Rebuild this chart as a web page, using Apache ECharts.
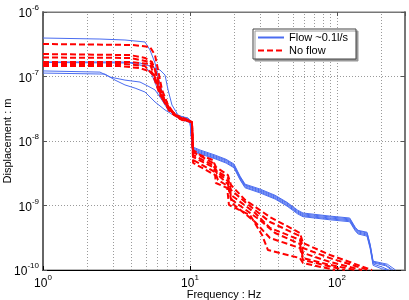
<!DOCTYPE html>
<html><head><meta charset="utf-8">
<script src="https://cdn.jsdelivr.net/npm/echarts@6/dist/echarts.min.js"></script>
<style>html,body{margin:0;padding:0;background:#fff}#c{width:409px;height:300px}</style>
</head><body><div id="c"></div>
<script>
const flowName = 'Flow ~0.1l/s';
const noFlowName = 'No flow';
const xLabelTicks = [1, 10, 100];
const xMinorGrid = [2,3,4,5,6,7,8,9,20,30,40,50,60,70,80,90,200];
const yMinorGrid = [2e-10,3e-10,4e-10,5e-10,6e-10,7e-10,8e-10,9e-10,
  2e-9,3e-9,4e-9,5e-9,6e-9,7e-9,8e-9,9e-9,
  2e-8,3e-8,4e-8,5e-8,6e-8,7e-8,8e-8,9e-8,
  2e-7,3e-7,4e-7,5e-7,6e-7,7e-7,8e-7,9e-7];

// Flow ~0.1 l/s  (frequency Hz, displacement m)
const flow1 = [[1,3.95e-7],[2.44,3.81e-7],[3.61,3.68e-7],[4.94,3.43e-7],[5.34,2.58e-7],[5.78,1.62e-7],[6.25,7.4e-8],[6.76,4.3e-8],[7.31,3.03e-8],[8.29,2.45e-8],[9.69,2.28e-8],[10.0,2.12e-8],
  [10.4,7.8e-9],[11.7,7.0e-9],[14.8,5.85e-9],[17.6,5.07e-9],[19.9,4.25e-9],[21.9,2.77e-9],[23.7,2.08e-9],[29.9,1.74e-9],[37.9,1.4e-9],[45.7,1.09e-9],[54,8.2e-10],[58.7,7.4e-10],[89.6,6.65e-10],[122,6.2e-10],[133,4.5e-10],[139,4.03e-10],[160,3.75e-10],[168,2.44e-10],[176,1.33e-10],[215,1.2e-10],[240,1.0e-10]];
const flow2 = [[1,1.68e-7],[3.34,1.68e-7],[4.57,1.62e-7],[5.34,1.45e-7],[6.25,1.26e-7],[6.76,1.055e-7],[7.09,6.2e-8],[7.54,3.61e-8],[8.29,2.53e-8],[9.69,2.19e-8],[10.0,2.12e-8],
  [10.4,7.5e-9],[11.7,6.75e-9],[14.8,5.65e-9],[17.6,4.9e-9],[19.9,4.1e-9],[21.9,2.7e-9],[23.7,2.02e-9],[29.9,1.68e-9],[37.9,1.35e-9],[45.7,1.05e-9],[54,7.9e-10],[58.7,7.15e-10],[89.6,6.4e-10],[122,6.0e-10],[133,4.35e-10],[139,3.9e-10],[160,3.6e-10],[168,2.35e-10],[176,1.29e-10],[215,1.16e-10],[235,1.0e-10]];
const flow3 = [[1,1.65e-7],[3.91,1.62e-7],[4.94,1.45e-7],[5.51,1.055e-7],[6.25,5.16e-8],[7.09,3.25e-8],[8.29,2.36e-8],[9.69,2.12e-8],[10.0,2.04e-8],
  [10.4,7.2e-9],[11.7,6.5e-9],[14.8,5.45e-9],[17.6,4.7e-9],[19.9,3.95e-9],[21.9,2.58e-9],[23.7,1.94e-9],[29.9,1.62e-9],[37.9,1.3e-9],[45.7,1.01e-9],[54,7.65e-10],[58.7,6.9e-10],[89.6,6.2e-10],[122,5.8e-10],[133,4.2e-10],[139,3.75e-10],[160,3.48e-10],[168,2.25e-10],[176,1.24e-10],[205,1.1e-10],[225,1.0e-10]];
const flow4 = [[1,1.22e-7],[2.44,1.17e-7],[2.86,9.8e-8],[3.61,8.8e-8],[4.57,8.2e-8],[5.18,7.1e-8],[5.78,6.2e-8],[6.45,4.3e-8],[7.09,3.03e-8],[8.29,2.36e-8],[9.69,2.04e-8],[10.0,2.04e-8],
  [10.4,8.1e-9],[11.7,7.25e-9],[14.8,6.05e-9],[17.6,5.2e-9],[19.9,4.4e-9],[21.9,2.85e-9],[23.7,2.14e-9],[29.9,1.8e-9],[37.9,1.44e-9],[45.7,1.12e-9],[54,8.45e-10],[58.7,7.65e-10],[89.6,6.85e-10],[122,6.4e-10],[133,4.6e-10],[139,4.12e-10],[160,3.85e-10],[168,2.5e-10],[176,1.37e-10],[220,1.23e-10],[250,1.0e-10]];
const flow5 = [[1,1.13e-7],[2.64,1.09e-7],[3.09,8.8e-8],[3.61,7.4e-8],[4.23,6.6e-8],[4.94,5.75e-8],[5.78,4.03e-8],[6.76,3.03e-8],[8.29,2.28e-8],[9.69,1.97e-8],[10.0,1.97e-8],
  [10.4,7.0e-9],[11.7,6.3e-9],[14.8,5.3e-9],[17.6,4.55e-9],[19.9,3.85e-9],[21.9,2.5e-9],[23.7,1.88e-9],[29.9,1.57e-9],[37.9,1.26e-9],[45.7,9.8e-10],[54,7.4e-10],[58.7,6.7e-10],[89.6,6.0e-10],[122,5.6e-10],[133,4.05e-10],[139,3.62e-10],[160,3.35e-10],[168,2.15e-10],[176,1.18e-10],[200,1.05e-10],[220,1.0e-10]];

// No flow
const noflow1 = [[1,3.19e-7],[4.10,3.08e-7],[5.34,2.87e-7],[5.78,2.15e-7],[6.06,1.26e-7],[6.45,6.2e-8],[7.09,3.61e-8],[7.91,2.53e-8],[9.69,2.12e-8],[10.3,1.97e-8],
  [10.5,7.25e-9],[11.7,6.07e-9],[14.3,5.07e-9],[15.0,3.95e-9],[18.1,2.97e-9],[19.0,2.08e-9],[23.7,1.22e-9],[29.9,8.5e-10],[35.0,6.6e-10],[44.3,4.98e-10],[56.0,3.75e-10],[58.7,2.62e-10],[89.6,1.71e-10],[122,1.33e-10],[173,1.0e-10]];
const noflow2 = [[1,2.23e-7],[3.91,2.15e-7],[4.94,1.94e-7],[5.51,1.68e-7],[5.96,1.055e-7],[6.45,5.16e-8],[7.31,3.03e-8],[8.55,2.28e-8],[10.3,1.97e-8],
  [10.5,6.75e-9],[14.3,4.58e-9],[15.0,3.55e-9],[18.1,2.67e-9],[19.0,1.74e-9],[25.6,9.8e-10],[35.0,5.55e-10],[56.0,3.36e-10],[58.7,2.19e-10],[89.6,1.53e-10],[163,1.0e-10]];
const noflow3 = [[1,1.97e-7],[3.91,1.94e-7],[5.34,1.68e-7],[5.78,1.26e-7],[6.25,6.2e-8],[7.09,3.25e-8],[8.55,2.19e-8],[10.3,1.97e-8],
  [10.5,6.07e-9],[14.3,4.25e-9],[15.3,3.3e-9],[18.1,2.39e-9],[19.0,1.46e-9],[27.7,7.65e-10],[35.0,4.5e-10],[56.0,2.92e-10],[58.7,1.84e-10],[89.6,1.33e-10],[148,1.0e-10]];
const noflow4 = [[1,1.68e-7],[3.91,1.68e-7],[5.34,1.56e-7],[5.87,8.8e-8],[6.45,4.64e-8],[7.31,2.8e-8],[8.82,2.12e-8],[10.3,1.97e-8],
  [10.5,5.65e-9],[14.3,3.95e-9],[15.5,2.97e-9],[18.1,2.15e-9],[19.3,1.22e-9],[29.9,5.95e-10],[37.9,3.75e-10],[56.0,2.53e-10],[58.7,1.53e-10],[89.6,1.2e-10],[133,1.0e-10]];
const noflow5 = [[1,1.45e-7],[3.34,1.45e-7],[4.57,1.35e-7],[5.51,1.17e-7],[6.06,7.4e-8],[6.76,4.03e-8],[7.91,2.45e-8],[10.3,1.97e-8],
  [10.5,5.07e-9],[14.8,3.3e-9],[15.5,2.48e-9],[18.1,2.0e-9],[19.3,1.09e-9],[27.7,5.55e-10],[35.0,3.13e-10],[56.0,2.19e-10],[58.7,1.43e-10],[113,1.0e-10]];
const noflow6 = [[1,1.56e-7],[3.61,1.56e-7],[4.94,1.45e-7],[5.6,1.055e-7],[6.25,5.16e-8],[7.31,3.03e-8],[8.82,2.19e-8],[10.3,1.97e-8],
  [10.5,4.58e-9],[14.8,2.97e-9],[15.0,2.23e-9],[17.9,1.87e-9],[18.4,1.02e-9],[25.6,7.1e-10],[30.9,3.49e-10],[33.9,2.04e-10],[56.0,1.53e-10],[58.7,1.28e-10],[96.9,1.0e-10]];

const flowSeries = [flow1, flow2, flow3, flow4, flow5];
const noFlowSeries = [noflow1, noflow2, noflow3, noflow4, noflow5, noflow6];

const FONT = "'Liberation Sans', Arial, Helvetica, sans-serif";
const gridLine = {type: [1, 2], color: '#9a9a9a', width: 1};

function supLabel(v) {
  const e = Math.round(Math.log10(v));
  return '{b|10}{s|' + e + '}';
}
const richSup = {
  b: {fontSize: 12, fontFamily: FONT, color: '#000', lineHeight: 16, verticalAlign: 'bottom'},
  s: {fontSize: 8, fontFamily: FONT, color: '#000', lineHeight: 16, verticalAlign: 'top'}
};

const series = [];
series.push({
  type: 'line', data: [], silent: true, z: 1, xAxisIndex: 0, yAxisIndex: 0,
  markLine: {
    z: 1, silent: true, symbol: ['none', 'none'], animation: false,
    label: {show: false}, lineStyle: gridLine, emphasis: {disabled: true},
    data: xMinorGrid.map(v => ({xAxis: v})).concat(yMinorGrid.map(v => ({yAxis: v})))
  }
});
flowSeries.forEach(d => series.push({
  name: flowName, type: 'line', data: d, symbol: 'none', showSymbol: false, z: 3,
  lineStyle: {color: '#4a6cf0', width: 1}, itemStyle: {color: '#4a6cf0'}
}));
noFlowSeries.forEach(d => series.push({
  name: noFlowName, type: 'line', data: d, symbol: 'none', showSymbol: false, z: 4,
  lineStyle: {color: '#ff0000', width: 2, type: [6, 3]}, itemStyle: {color: '#ff0000'}
}));

const chart = echarts.init(document.getElementById('c'), null, {renderer: 'canvas'});
chart.setOption({
  animation: false,
  backgroundColor: '#fff',
  textStyle: {fontFamily: FONT},
  grid: {left: 43, right: 4, top: 12, bottom: 30, outerBoundsMode: 'none', containLabel: false,
         show: true, borderColor: '#777', borderWidth: 1, backgroundColor: 'transparent'},
  legend: {
    data: [flowName, noFlowName], orient: 'vertical', left: 253, top: 29, z: 20,
    backgroundColor: '#fff', borderColor: '#444', borderWidth: 1,
    padding: [3, 8, 3, 4], itemGap: 2, itemWidth: 26, itemHeight: 10,
    itemStyle: {opacity: 0},
    shadowColor: '#999', shadowOffsetX: 2, shadowOffsetY: 2, shadowBlur: 0,
    textStyle: {fontSize: 11, fontFamily: FONT, color: '#000'},
    selectedMode: false
  },
  xAxis: [{
    type: 'log', logBase: 10, min: 1, max: 290,
    name: 'Frequency : Hz', nameLocation: 'middle', nameGap: 19, nameMoveOverlap: false,
    nameTextStyle: {fontSize: 11, fontFamily: FONT, color: '#000', verticalAlign: 'top'},
    axisLine: {show: true, lineStyle: {color: '#000', width: 1}},
    axisTick: {show: true, inside: true, length: 4, lineStyle: {color: '#000'}},
    axisLabel: {formatter: v => xLabelTicks.indexOf(Math.round(v)) >= 0 ? supLabel(v) : '', rich: richSup, margin: 4, showMaxLabel: false},
    splitLine: {show: true, lineStyle: gridLine}
  }, {
    type: 'log', logBase: 10, min: 1, max: 290, position: 'top',
    axisLine: {show: true, lineStyle: {color: '#777'}},
    axisTick: {show: true, inside: true, length: 4, lineStyle: {color: '#555'}},
    axisLabel: {show: false}, splitLine: {show: false}
  }],
  yAxis: [{
    type: 'log', logBase: 10, min: 1e-10, max: 1e-6,
    name: 'Displacement : m', nameLocation: 'middle', nameGap: 30, nameMoveOverlap: false,
    nameTextStyle: {fontSize: 11, fontFamily: FONT, color: '#000', verticalAlign: 'bottom'},
    axisLine: {show: true, lineStyle: {color: '#666', width: 2}},
    axisTick: {show: true, inside: true, length: 4, lineStyle: {color: '#555'}},
    axisLabel: {formatter: v => supLabel(v), rich: richSup, margin: 4},
    splitLine: {show: true, lineStyle: gridLine}
  }, {
    type: 'log', logBase: 10, min: 1e-10, max: 1e-6, position: 'right',
    axisLine: {show: true, lineStyle: {color: '#777', width: 2}},
    axisTick: {show: true, inside: true, length: 4, lineStyle: {color: '#555'}},
    axisLabel: {show: false}, splitLine: {show: false}
  }],
  series: series
});
</script>
</body></html>
